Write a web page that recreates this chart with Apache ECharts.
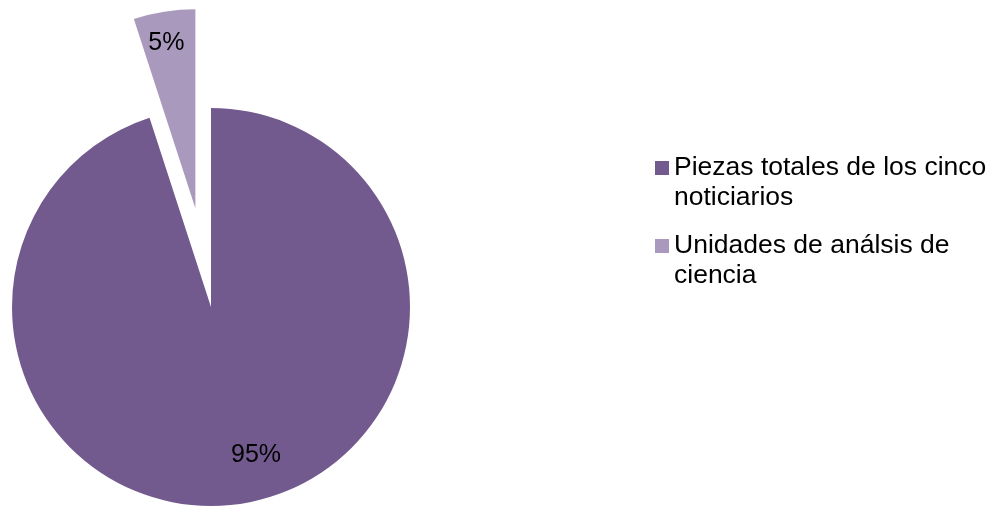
<!DOCTYPE html>
<html>
<head>
<meta charset="utf-8">
<script src="https://cdn.jsdelivr.net/npm/echarts@6/dist/echarts.min.js"></script>
<style>
html,body{margin:0;padding:0;background:#fff;}
#chart{width:993px;height:508px;}
</style>
</head>
<body>
<div id="chart"></div>
<script>
const categories = ['Piezas totales de los cinco\nnoticiarios', 'Unidades de análsis de\nciencia'];
const values = [95, 5];
const colors = ['#725a8e', '#a99abd'];
const labelOffsets = [[29, 47], [-13, -64]];
const explodedFlags = [false, true];

const chart = echarts.init(document.getElementById('chart'), null, {renderer: 'canvas'});
const LH = 30;
chart.setOption({
  animation: false,
  backgroundColor: '#ffffff',
  legend: {
    orient: 'vertical',
    left: 655,
    top: 123,
    padding: 0,
    itemWidth: 14,
    itemHeight: 14,
    itemGap: -12,
    icon: 'rect',
    selectedMode: false,
    data: categories,
    formatter: function (name) { return '\n' + name; },
    textStyle: {
      fontFamily: 'Liberation Sans, Arial, sans-serif',
      fontSize: 26.5,
      color: '#000',
      lineHeight: LH
    }
  },
  series: [{
    type: 'pie',
    center: [211, 307],
    radius: 199,
    startAngle: 90,
    clockwise: true,
    selectedMode: 'multiple',
    selectedOffset: 100,
    avoidLabelOverlap: false,
    emphasis: {disabled: true},
    label: {
      show: true,
      position: 'inside',
      formatter: '{d}%',
      fontFamily: 'Liberation Sans, Arial, sans-serif',
      fontSize: 25,
      color: '#000'
    },
    labelLine: {show: false},
    data: categories.map((c, i) => ({
      name: c,
      value: values[i],
      selected: explodedFlags[i],
      itemStyle: {color: colors[i]},
      label: {offset: labelOffsets[i]},
      select: {label: {offset: labelOffsets[i]}, itemStyle: {color: colors[i]}}
    }))
  }]
});
</script>
</body>
</html>
